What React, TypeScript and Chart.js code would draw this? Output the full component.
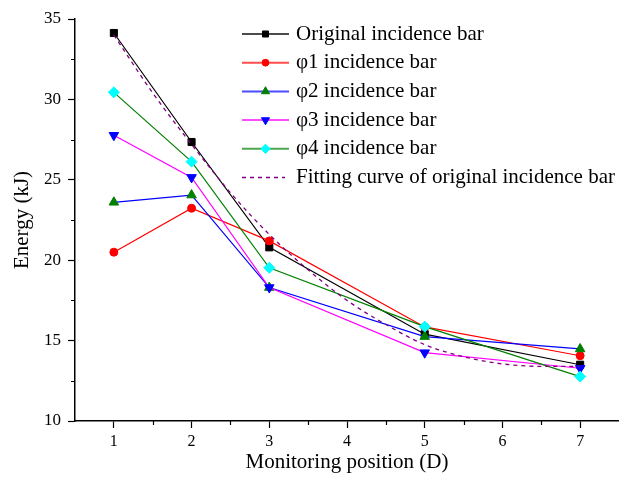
import React, { useEffect, useRef } from 'react';
import { Chart, registerables } from 'chart.js';

Chart.register(...registerables);

// ---- data ----
const positions = [1, 2, 3, 5, 7];
const originalBar = [34.13, 27.35, 20.8, 15.4, 13.5];
const phi1Bar = [20.5, 23.23, 21.2, 15.85, 14.06];
const phi2Bar = [23.6, 24.05, 18.3, 15.25, 14.48];
const phi3Bar = [27.77, 25.15, 18.3, 14.25, 13.28];
const phi4Bar = [30.44, 26.13, 19.53, 15.87, 12.76];
const fitPositions = [1, 1.5, 2, 2.5, 3, 3.5, 4, 4.5, 5, 5.5, 6, 6.5, 7];
const fitOriginal = [34.0, 30.4, 27.2, 24.2, 21.6, 19.4, 17.5, 16.0, 14.75, 14.0, 13.55, 13.4, 13.4];
const xTickValues = [1, 2, 3, 4, 5, 6, 7];
const xMinorValues = [1.5, 2.5, 3.5, 4.5, 5.5, 6.5];
const yTickValues = [10, 15, 20, 25, 30, 35];
const yMinorValues = [12.5, 17.5, 22.5, 27.5, 32.5];
const seriesLabels = [
  'Original incidence bar',
  'φ1 incidence bar',
  'φ2 incidence bar',
  'φ3 incidence bar',
  'φ4 incidence bar',
  'Fitting curve of original incidence bar',
];

const FONT = "'Liberation Serif', 'Times New Roman', serif";

type Style = { line: string; point: string; shape: string; rotation: number; radius: number };
const styles: Style[] = [
  { line: '#000000', point: '#000000', shape: 'rect', rotation: 0, radius: 5 },
  { line: '#ff0000', point: '#ff0000', shape: 'circle', rotation: 0, radius: 4 },
  { line: '#0000ff', point: '#008000', shape: 'triangle', rotation: 0, radius: 5.5 },
  { line: '#ff00ff', point: '#0000ff', shape: 'triangle', rotation: 180, radius: 5.5 },
  { line: '#008000', point: '#00ffff', shape: 'rectRot', rotation: 0, radius: 5.5 },
];
const fitColor = '#800080';

function drawMarker(ctx: CanvasRenderingContext2D, s: Style, x: number, y: number, scale: number) {
  const r = s.radius * scale;
  ctx.save();
  ctx.fillStyle = s.point;
  ctx.strokeStyle = s.point;
  ctx.lineWidth = 1;
  ctx.beginPath();
  if (s.shape === 'rect') {
    const h = r * Math.SQRT1_2;
    ctx.rect(x - h, y - h, 2 * h, 2 * h);
  } else if (s.shape === 'circle') {
    ctx.arc(x, y, r, 0, Math.PI * 2);
  } else if (s.shape === 'triangle') {
    const dir = s.rotation === 180 ? -1 : 1;
    const w = (r * Math.sqrt(3)) / 2;
    ctx.moveTo(x, y - dir * r);
    ctx.lineTo(x + w, y + (dir * r) / 2);
    ctx.lineTo(x - w, y + (dir * r) / 2);
    ctx.closePath();
  } else if (s.shape === 'rectRot') {
    ctx.moveTo(x, y - r);
    ctx.lineTo(x + r, y);
    ctx.lineTo(x, y + r);
    ctx.lineTo(x - r, y);
    ctx.closePath();
  }
  ctx.fill();
  ctx.stroke();
  ctx.restore();
}

const overlayPlugin = {
  id: 'overlay',
  afterDraw(chart: any) {
    const ctx: CanvasRenderingContext2D = chart.ctx;
    const xs = chart.scales.x;
    const ys = chart.scales.y;
    const area = chart.chartArea;
    ctx.save();
    // minor ticks
    ctx.strokeStyle = '#000';
    ctx.lineWidth = 1.2;
    ctx.beginPath();
    xMinorValues.forEach((v) => {
      const px = Math.round(xs.getPixelForValue(v)) + 0.5;
      ctx.moveTo(px, area.bottom);
      ctx.lineTo(px, area.bottom + 4);
    });
    yMinorValues.forEach((v) => {
      const py = Math.round(ys.getPixelForValue(v)) + 0.5;
      ctx.moveTo(area.left, py);
      ctx.lineTo(area.left - 4, py);
    });
    ctx.stroke();

    // legend
    const lx0 = 242;
    const lx1 = 289;
    const tx = 296;
    const y0 = 34;
    const dy = 28.7;
    ctx.font = `21px ${FONT}`;
    ctx.textBaseline = 'middle';
    ctx.textAlign = 'left';
    seriesLabels.forEach((label, i) => {
      const y = y0 + i * dy;
      ctx.save();
      if (i < styles.length) {
        ctx.strokeStyle = styles[i].line;
        ctx.globalAlpha = 0.7;
        ctx.lineWidth = 2;
        ctx.beginPath();
        ctx.moveTo(lx0, y);
        ctx.lineTo(lx1, y);
        ctx.stroke();
        ctx.globalAlpha = 1;
        drawMarker(ctx, styles[i], (lx0 + lx1) / 2, y, 0.85);
      } else {
        ctx.strokeStyle = fitColor;
        ctx.lineWidth = 1.3;
        ctx.setLineDash([4, 4]);
        ctx.beginPath();
        ctx.moveTo(lx0, y);
        ctx.lineTo(lx1 - 4, y);
        ctx.stroke();
      }
      ctx.restore();
      ctx.fillStyle = '#000';
      ctx.fillText(label, tx, y);
    });
    ctx.restore();
  },
};

export default function App() {
  const canvasRef = useRef<HTMLCanvasElement | null>(null);

  useEffect(() => {
    const canvas = canvasRef.current;
    if (!canvas) return;
    const seriesData = [originalBar, phi1Bar, phi2Bar, phi3Bar, phi4Bar];
    const datasets: any[] = seriesData.map((arr, i) => ({
      label: seriesLabels[i],
      data: positions.map((x, j) => ({ x, y: arr[j] })),
      borderColor: styles[i].line,
      backgroundColor: styles[i].point,
      pointBackgroundColor: styles[i].point,
      pointBorderColor: styles[i].point,
      pointBorderWidth: 1,
      pointStyle: styles[i].shape,
      pointRotation: styles[i].rotation,
      pointRadius: styles[i].radius,
      borderWidth: 1.2,
      tension: 0,
      order: 10 - i,
    }));
    datasets.push({
      label: seriesLabels[5],
      data: fitPositions.map((x, j) => ({ x, y: fitOriginal[j] })),
      borderColor: fitColor,
      borderDash: [4, 4],
      borderWidth: 1.3,
      pointRadius: 0,
      tension: 0.4,
      cubicInterpolationMode: 'monotone',
      order: 0,
    });

    const chart = new Chart(canvas, {
      type: 'line',
      data: { datasets },
      plugins: [overlayPlugin],
      options: {
        animation: false,
        responsive: false,
        maintainAspectRatio: false,
        devicePixelRatio: 1,
        layout: { autoPadding: false, padding: { top: 19, left: 0, right: 0, bottom: 0 } },
        plugins: { legend: { display: false }, tooltip: { enabled: false } },
        scales: {
          x: {
            type: 'linear',
            min: 0.5,
            max: 7.5,
            afterBuildTicks: (s: any) => {
              s.ticks = xTickValues.map((v) => ({ value: v }));
            },
            afterFit: (s: any) => {
              s.height = 63;
            },
            grid: { display: true, drawOnChartArea: false, drawTicks: true, tickLength: 7, tickColor: '#000', tickWidth: 1.2 },
            border: { display: true, color: '#000', width: 1.5 },
            ticks: { color: '#000', font: { family: FONT, size: 16 }, padding: 4, maxRotation: 0, autoSkip: false },
            title: {
              display: true,
              text: 'Monitoring position (D)',
              color: '#000',
              font: { family: FONT, size: 21 },
              padding: { top: 0, bottom: 9 },
            },
          },
          y: {
            type: 'linear',
            min: 10,
            max: 35,
            afterBuildTicks: (s: any) => {
              s.ticks = yTickValues.map((v) => ({ value: v }));
            },
            afterFit: (s: any) => {
              s.width = 75;
            },
            grid: { display: true, drawOnChartArea: false, drawTicks: true, tickLength: 7, tickColor: '#000', tickWidth: 1.2 },
            border: { display: true, color: '#000', width: 1.5 },
            ticks: { color: '#000', font: { family: FONT, size: 17 }, padding: 7, autoSkip: false },
            title: {
              display: true,
              text: 'Energy (kJ)',
              color: '#000',
              font: { family: FONT, size: 21 },
              padding: { top: 10, bottom: 0 },
            },
          },
        },
      },
    } as any);
    return () => chart.destroy();
  }, []);

  return (
    <div style={{ position: 'absolute', left: 0, top: 0, width: 619, height: 484, background: '#fff' }}>
      <canvas ref={canvasRef} width={619} height={484} style={{ width: 619, height: 484, display: 'block' }} />
    </div>
  );
}
